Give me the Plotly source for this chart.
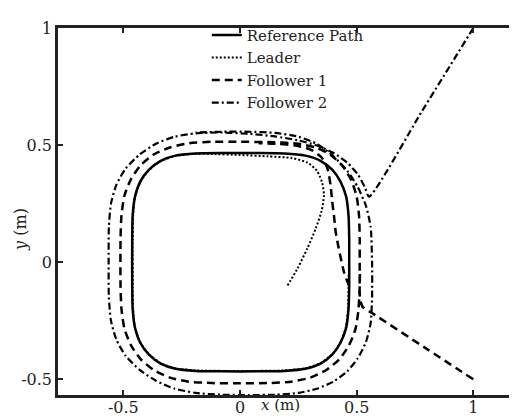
import plotly.graph_objects as go

# reference path (closed loop, counter-clockwise)
ref_x = [0.468, 0.468, 0.465, 0.455, 0.43, 0.395, 0.345, 0.28, 0.19, 0.08, -0.08, -0.19, -0.277, -0.34, -0.39,
         -0.427, -0.45, -0.46, -0.462, -0.462, -0.46, -0.45, -0.427, -0.39, -0.34, -0.277, -0.19, -0.08,
         0.08, 0.19, 0.28, 0.345, 0.395, 0.43, 0.455, 0.465, 0.468, 0.468]
ref_y = [0.0, 0.1, 0.2, 0.28, 0.345, 0.395, 0.433, 0.455, 0.464, 0.466, 0.466, 0.464, 0.455, 0.433, 0.395,
         0.345, 0.28, 0.2, 0.1, -0.1, -0.2, -0.28, -0.345, -0.395, -0.433, -0.455, -0.464, -0.466,
         -0.466, -0.464, -0.455, -0.433, -0.395, -0.345, -0.28, -0.2, -0.1, 0.0]

# leader
lead_x = [0.204, 0.247, 0.289, 0.325, 0.35, 0.36, 0.352, 0.33, 0.29, 0.22, 0.12, 0.0, -0.12, -0.2, -0.277,
          -0.34, -0.39, -0.427, -0.45, -0.458, -0.46, -0.46, -0.458, -0.45, -0.427, -0.39, -0.34, -0.277,
          -0.19, -0.08, 0.08, 0.19, 0.28, 0.345, 0.395, 0.43, 0.453, 0.463, 0.466]
lead_y = [-0.099, -0.026, 0.06, 0.145, 0.22, 0.286, 0.34, 0.39, 0.425, 0.445, 0.452, 0.458, 0.462, 0.463, 0.453,
          0.431, 0.393, 0.343, 0.28, 0.2, 0.1, -0.1, -0.2, -0.28, -0.343, -0.393, -0.431, -0.453,
          -0.462, -0.464, -0.464, -0.462, -0.453, -0.431, -0.393, -0.343, -0.28, -0.2, -0.05]

# follower 1 (None splits the two visible pieces)
f1_x = [1.0, 0.8, 0.566, 0.525, 0.514, 0.513, 0.513, 0.51, 0.5, 0.477, 0.44, 0.39, 0.33, 0.24, 0.12, 0.0, -0.12,
        -0.22, -0.3, -0.37, -0.425, -0.467, -0.495, -0.508, -0.512, -0.512, -0.508, -0.495, -0.467, -0.425,
        -0.37, -0.3, -0.22, -0.12, 0.0, 0.12, 0.22, 0.3, 0.37, 0.425, 0.467, 0.495, 0.508, 0.513, 0.514,
        None,
        0.468, 0.447, 0.432, 0.42, 0.41, 0.404, 0.395, 0.388, 0.375, 0.35, 0.305, 0.24, 0.16, 0.08]
f1_y = [-0.5, -0.37, -0.217, -0.19, -0.15, -0.05, 0.1, 0.2, 0.28, 0.35, 0.41, 0.457, 0.488, 0.507, 0.513, 0.514,
        0.514, 0.508, 0.49, 0.46, 0.415, 0.355, 0.285, 0.2, 0.1, -0.1, -0.2, -0.285, -0.355, -0.415,
        -0.46, -0.493, -0.51, -0.516, -0.517, -0.516, -0.51, -0.493, -0.46, -0.415, -0.355, -0.285, -0.2,
        -0.1, -0.05,
        None,
        -0.102, -0.047, 0.017, 0.075, 0.13, 0.187, 0.26, 0.33, 0.4, 0.447, 0.48, 0.498, 0.505, 0.508]

# follower 2
f2_x = [1.0, 0.78, 0.553, 0.535, 0.505, 0.46, 0.4, 0.33, 0.25, 0.15, 0.04, -0.08, -0.19, -0.28, -0.36, -0.43,
        -0.49, -0.53, -0.553, -0.562, -0.563, -0.562, -0.553, -0.53, -0.49, -0.43, -0.36, -0.28, -0.19,
        -0.08, 0.04, 0.15, 0.25, 0.33, 0.4, 0.46, 0.505, 0.54, 0.56, 0.566, 0.566, 0.56, 0.54, 0.505,
        0.46, 0.4, 0.33, 0.25, 0.15, 0.04, -0.08, -0.19]
f2_y = [1.0, 0.645, 0.28, 0.32, 0.375, 0.425, 0.467, 0.498, 0.52, 0.537, 0.548, 0.554, 0.55, 0.536, 0.506, 0.46,
        0.4, 0.33, 0.25, 0.15, 0.0, -0.15, -0.25, -0.33, -0.4, -0.46, -0.506, -0.54, -0.558,
        -0.566, -0.567, -0.566, -0.558, -0.54, -0.51, -0.465, -0.41, -0.34, -0.26, -0.15, 0.0, 0.15, 0.24,
        0.32, 0.39, 0.453, 0.505, 0.536, 0.552, 0.557, 0.557, 0.554]

tick_vals = [-0.5, 0, 0.5, 1]
tick_text = ["-0.5", "0", "0.5", "1"]

FONT = "DejaVu Serif"
INK = "#222"

fig = go.Figure()
fig.add_scatter(x=ref_x, y=ref_y, name="Reference Path", mode="lines",
                line=dict(color="black", width=2.5, shape="spline", smoothing=0.6))
fig.add_scatter(x=lead_x, y=lead_y, name="Leader", mode="lines",
                line=dict(color="black", width=2, dash="2px,2px", shape="spline", smoothing=0.6))
fig.add_scatter(x=f1_x, y=f1_y, name="Follower 1", mode="lines",
                line=dict(color="black", width=2.5, dash="8px,5px", shape="spline", smoothing=0.6))
fig.add_scatter(x=f2_x, y=f2_y, name="Follower 2", mode="lines",
                line=dict(color="black", width=2.2, dash="7px,3px,2px,3px", shape="spline", smoothing=0.6))

axis = dict(showline=True, linewidth=2.5, linecolor=INK, mirror="ticks", ticks="inside", ticklen=5,
            tickwidth=2, tickcolor=INK, showgrid=False, zeroline=False, tickvals=tick_vals,
            ticktext=tick_text, tickfont=dict(family=FONT, size=16, color=INK))
fig.update_xaxes(range=[-0.78, 1.2], ticklabelstandoff=-4, **axis)
fig.update_yaxes(range=[-0.567, 1.0], **axis)

# x label sits just right of the "0" tick, in the bottom margin
fig.add_annotation(text="<i>x</i> (m)", xref="paper", yref="paper", x=0.434, y=-0.058,
                   xanchor="left", yanchor="bottom", showarrow=False,
                   font=dict(family=FONT, size=15, color=INK))
fig.add_annotation(text="<i>y</i> (m)", xref="paper", yref="paper", x=-0.08, y=0.45,
                   textangle=-90, xanchor="center", yanchor="middle", showarrow=False,
                   font=dict(family=FONT, size=16, color=INK))

fig.update_layout(
    width=517, height=418,
    margin=dict(l=50, r=2, t=20, b=31),
    plot_bgcolor="white", paper_bgcolor="white",
    legend=dict(x=0.322, y=1.025, xanchor="left", yanchor="top", bgcolor="rgba(0,0,0,0)",
                font=dict(family=FONT, size=15, color=INK), itemwidth=30),
)

fig.write_html("out.html")
